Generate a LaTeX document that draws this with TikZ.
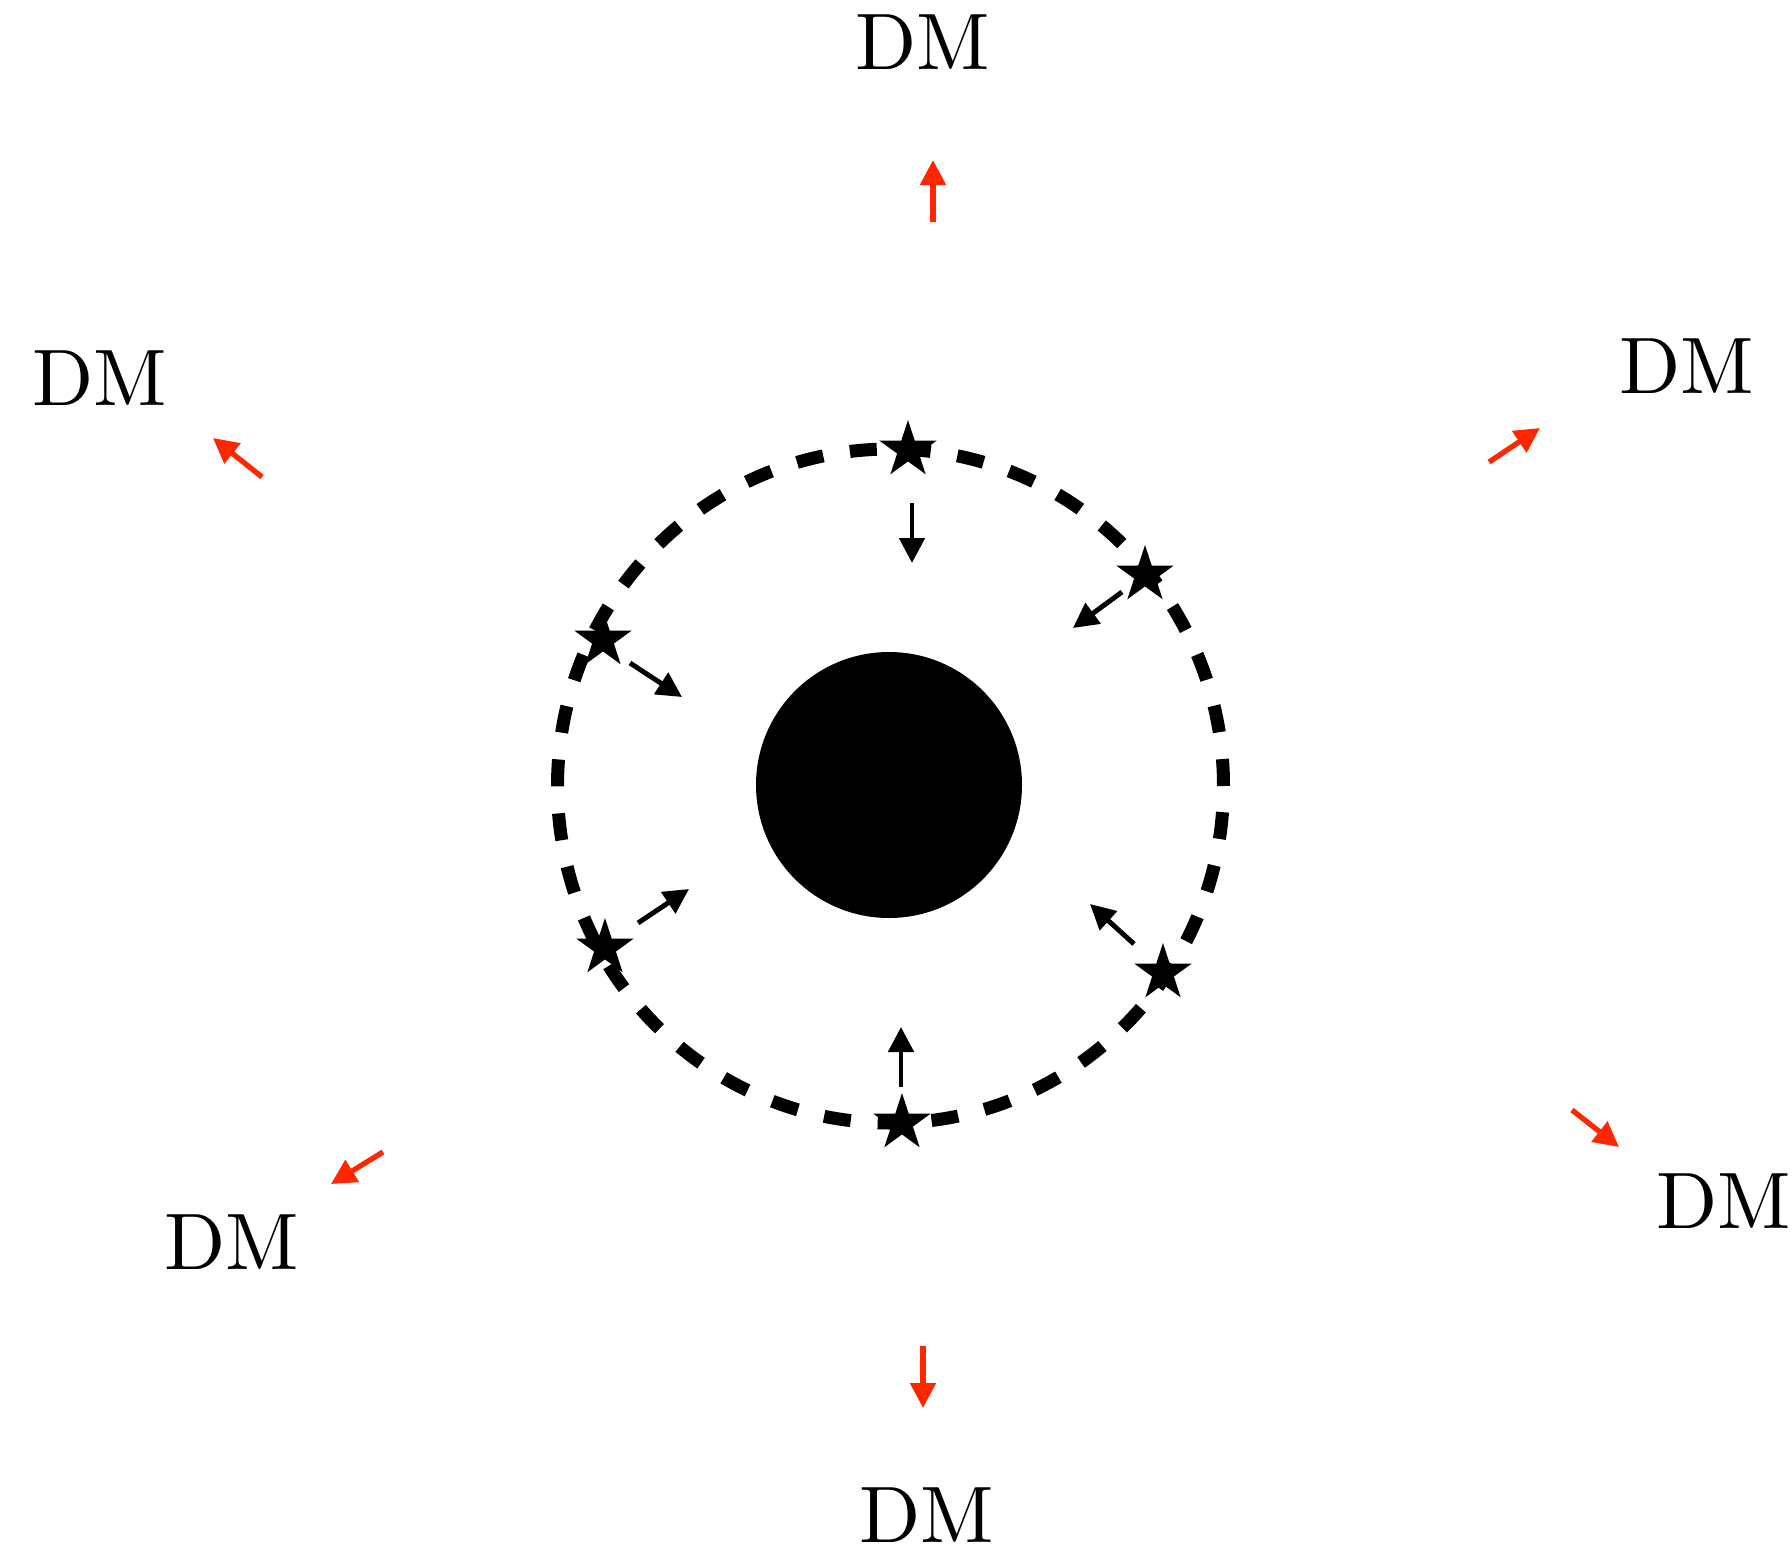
\documentclass[tikz,border=0pt]{standalone}
\usepackage{tikz}
\usetikzlibrary{arrows.meta}
\usetikzlibrary{shapes.geometric}
\definecolor{dmred}{HTML}{FF2600}
\definecolor{dmink}{HTML}{000000}
\tikzset{
  dmstar/.style={
    star, star points=5, star point ratio=2.618, fill=dmink,
    inner sep=0pt, minimum size=0.6cm},
  dmhole/.style={circle, fill=dmink, inner sep=0pt, minimum size=2.66cm},
  dmorbit/.style={
    draw=dmink, line width=3.7pt, dash pattern=on 0.27cm off 0.27cm},
  dminflow/.style={-{Triangle[length=0.25cm, width=0.25cm]},
    draw=dmink, line width=1.4pt},
  dmoutflow/.style={-{Triangle[length=0.25cm, width=0.25cm]},
    draw=dmred, line width=1.5pt},
  dmlabel/.style={font=\normalsize, text=dmink, scale=2.28, inner sep=0pt},
}
\begin{document}
\begin{tikzpicture}[x=1cm, y=1cm]

\useasboundingbox (0, 0) rectangle (17.92, -15.5);

% Central black hole and the dashed stellar orbit.
\node[dmhole] (bh) at (8.89, -7.85) {};
\draw[dmorbit] (8.905, -7.86) ellipse [x radius=3.33, y radius=3.37];

% Stars on the orbit, pulled inwards.
\foreach \n/\sx/\sy/\ax/\ay/\bx/\by in {%
    1/9.08/-4.50/9.12/-5.03/9.12/-5.63,
    2/11.45/-5.75/11.22/-5.92/10.73/-6.28,
    3/6.03/-6.40/6.30/-6.63/6.82/-6.97,
    4/6.05/-9.48/6.38/-9.23/6.89/-8.89,
    5/11.63/-9.73/11.34/-9.44/10.90/-9.04,
    6/9.02/-11.23/9.01/-10.87/9.01/-10.27} {
  \node[dmstar] (star\n) at (\sx, \sy) {};
  \coordinate (in\n a) at (\ax, \ay);
  \coordinate (in\n b) at (\bx, \by);
  \draw[dminflow] (in\n a) -- (in\n b);
}

% Dark matter pushed outwards.
\foreach \n/\lx/\ly/\ax/\ay/\bx/\by in {%
    1/9.23/-0.425/9.33/-2.22/9.33/-1.60,
    2/16.87/-3.66/14.89/-4.62/15.40/-4.28,
    3/1.00/-3.785/2.62/-4.77/2.13/-4.38,
    4/2.32/-12.42/3.83/-11.52/3.31/-11.84,
    5/9.27/-15.155/9.23/-13.46/9.23/-14.08,
    6/17.24/-12.015/15.72/-11.10/16.19/-11.47} {
  \node[dmlabel] (dm\n) at (\lx, \ly) {DM};
  \coordinate (out\n a) at (\ax, \ay);
  \coordinate (out\n b) at (\bx, \by);
  \draw[dmoutflow] (out\n a) -- (out\n b);
}

\end{tikzpicture}
\end{document}
